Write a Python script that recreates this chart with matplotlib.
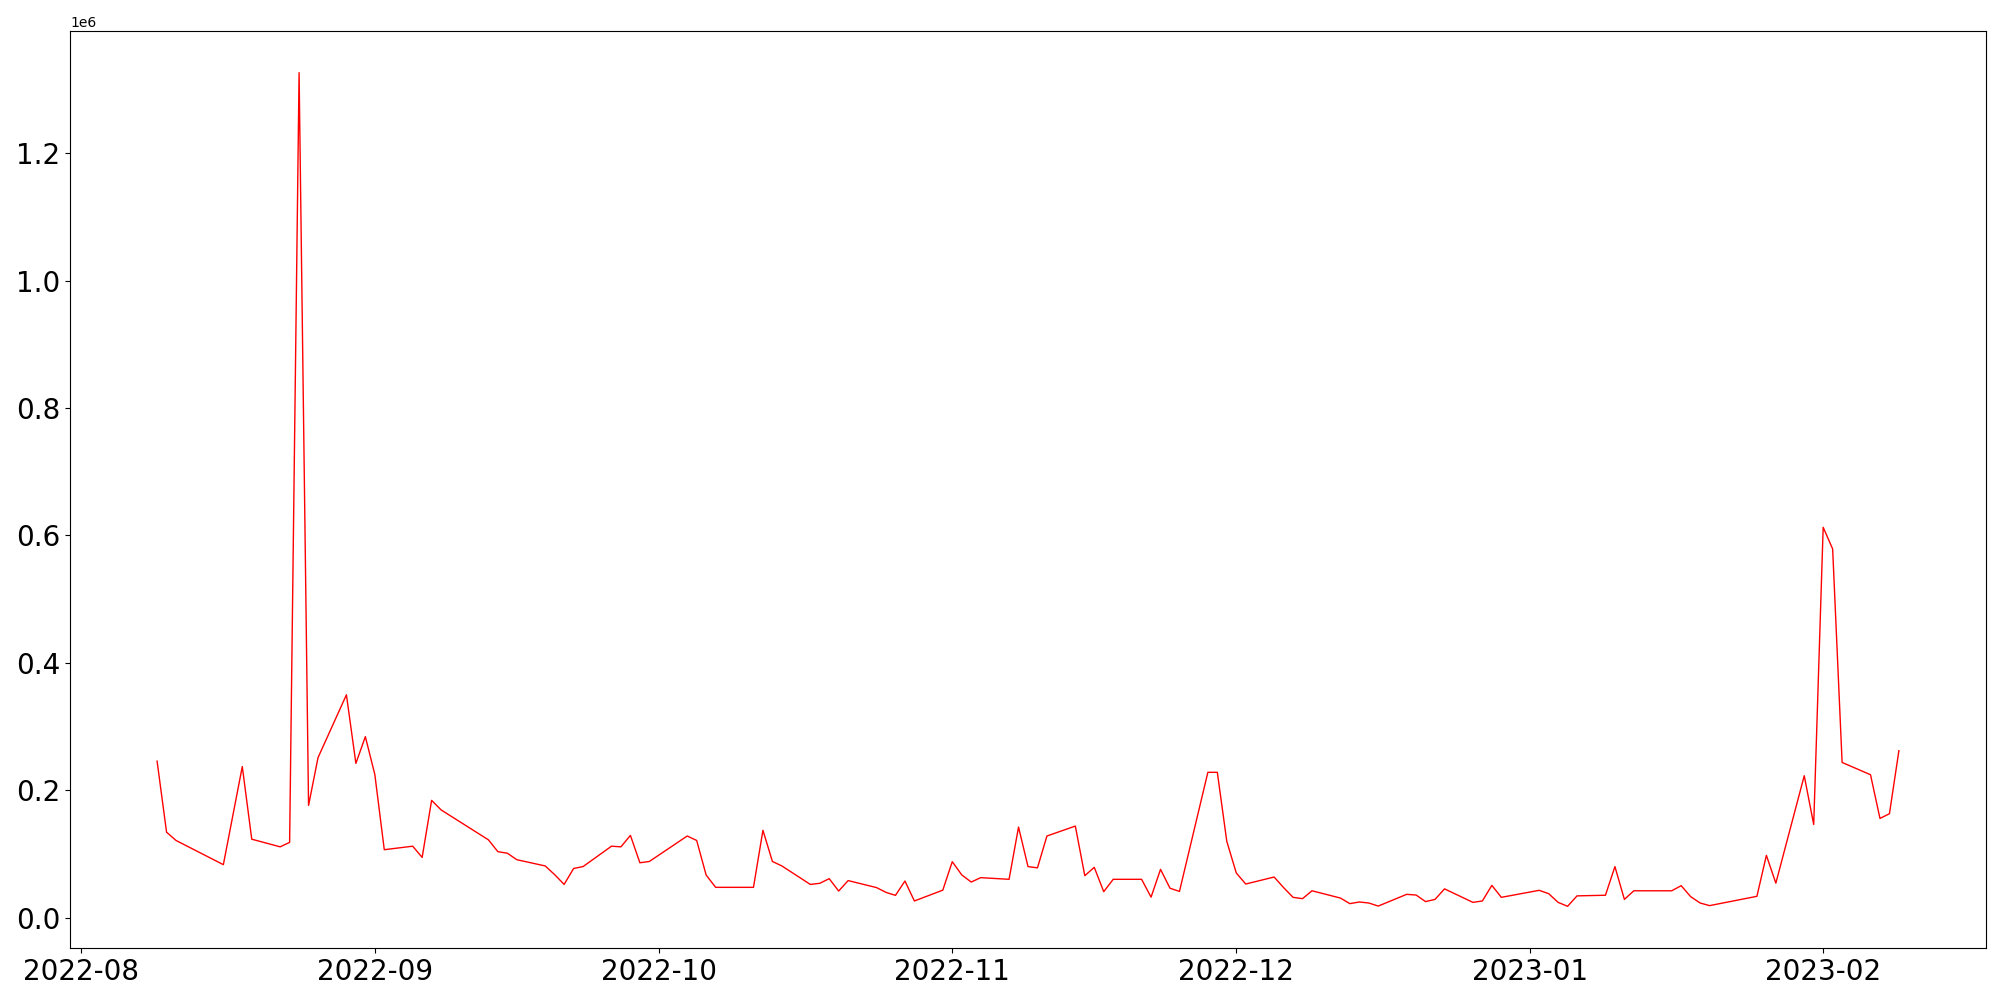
import numpy as np
import pandas as pd
import matplotlib
matplotlib.use('Agg')
import matplotlib.pyplot as plt

# trading days and daily values
dates = ['2022-08-09', '2022-08-10', '2022-08-11', '2022-08-16', '2022-08-18', '2022-08-19',
         '2022-08-22', '2022-08-23', '2022-08-24', '2022-08-25', '2022-08-26', '2022-08-29',
         '2022-08-30', '2022-08-31', '2022-09-01', '2022-09-02', '2022-09-05', '2022-09-06',
         '2022-09-07', '2022-09-08', '2022-09-13', '2022-09-14', '2022-09-15', '2022-09-16',
         '2022-09-19', '2022-09-20', '2022-09-21', '2022-09-22', '2022-09-23', '2022-09-26',
         '2022-09-27', '2022-09-28', '2022-09-29', '2022-09-30', '2022-10-04', '2022-10-05',
         '2022-10-06', '2022-10-07', '2022-10-11', '2022-10-12', '2022-10-13', '2022-10-14',
         '2022-10-17', '2022-10-18', '2022-10-19', '2022-10-20', '2022-10-21', '2022-10-24',
         '2022-10-25', '2022-10-26', '2022-10-27', '2022-10-28', '2022-10-31', '2022-11-01',
         '2022-11-02', '2022-11-03', '2022-11-04', '2022-11-07', '2022-11-08', '2022-11-09',
         '2022-11-10', '2022-11-11', '2022-11-14', '2022-11-15', '2022-11-16', '2022-11-17',
         '2022-11-18', '2022-11-21', '2022-11-22', '2022-11-23', '2022-11-24', '2022-11-25',
         '2022-11-28', '2022-11-29', '2022-11-30', '2022-12-01', '2022-12-02', '2022-12-05',
         '2022-12-06', '2022-12-07', '2022-12-08', '2022-12-09', '2022-12-12', '2022-12-13',
         '2022-12-14', '2022-12-15', '2022-12-16', '2022-12-19', '2022-12-20', '2022-12-21',
         '2022-12-22', '2022-12-23', '2022-12-26', '2022-12-27', '2022-12-28', '2022-12-29',
         '2023-01-02', '2023-01-03', '2023-01-04', '2023-01-05', '2023-01-06', '2023-01-09',
         '2023-01-10', '2023-01-11', '2023-01-12', '2023-01-16', '2023-01-17', '2023-01-18',
         '2023-01-19', '2023-01-20', '2023-01-25', '2023-01-26', '2023-01-27', '2023-01-30',
         '2023-01-31', '2023-02-01', '2023-02-02', '2023-02-03', '2023-02-06', '2023-02-07',
         '2023-02-08', '2023-02-09']

values = [245500, 134000, 121000, 83000, 237000, 123000,
          111000, 118000, 1326500, 176000, 251000, 349700,
          242000, 284000, 224700, 106500, 112000, 94400,
          184000, 169000, 122000, 103400, 101000, 90800,
          81000, 67300, 52000, 77000, 80000, 112000,
          111000, 129000, 86000, 88000, 128000, 121000,
          66700, 47400, 47400, 137000, 88000, 81000,
          52000, 53700, 61000, 41600, 58000, 47000,
          39500, 34800, 57300, 26000, 43000, 87700,
          67000, 55700, 62600, 60000, 142000, 80000,
          78000, 128000, 143600, 65700, 78800, 40600,
          60000, 60000, 32000, 75600, 46000, 41000,
          228000, 228000, 119600, 70000, 52600, 63600,
          47000, 31700, 29600, 42000, 30600, 21800,
          24400, 22800, 18000, 36400, 35300, 25000,
          28500, 45000, 23800, 26000, 50500, 31700,
          42700, 37500, 23800, 17600, 34000, 35000,
          80000, 28500, 42000, 42000, 50000, 32800,
          22800, 18700, 33300, 97600, 54000, 222600,
          146000, 612700, 578700, 243500, 224200, 155600,
          163000, 262000]

x = pd.to_datetime(dates)
y = np.array(values)

fig = plt.figure(figsize=(20, 10), dpi=100)
plt.plot(x, y, color='red', linewidth=1)
plt.xticks(fontsize=20)
plt.yticks(fontsize=20)
plt.subplots_adjust(left=0.035, right=0.993, bottom=0.052, top=0.969)
plt.savefig('out.png')
